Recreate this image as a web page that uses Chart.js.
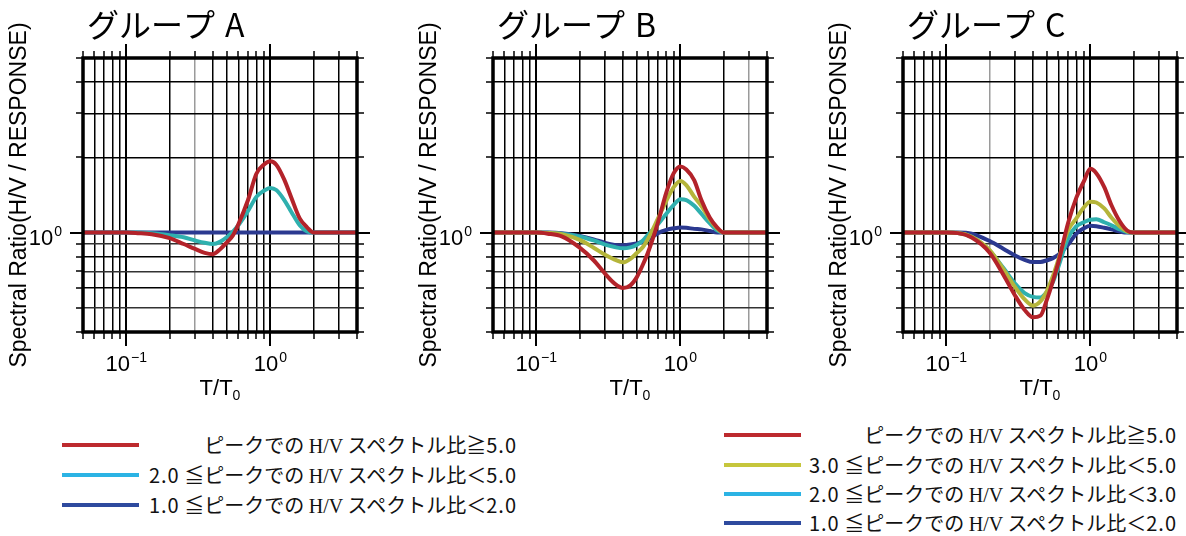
<!DOCTYPE html>
<html lang="ja">
<head>
<meta charset="UTF-8">
<title>グループ別 H/V スペクトル比</title>
<script src="https://cdn.jsdelivr.net/npm/chart.js"></script>
<style>
  html, body { margin: 0; padding: 0; background: #fff; }
  #wrap { position: relative; width: 1186px; height: 536px; overflow: hidden; background: #fff; }
  #wrap canvas { position: absolute; top: 0; }
  .swatch { position: absolute; height: 4px; }
  .label { position: absolute; white-space: nowrap; line-height: 1; transform: translate(-100%, -50%);
           font-family: "Noto Sans CJK JP", sans-serif; font-size: 20px; color: #111; }
  .hv { font-family: "Liberation Serif", serif; }
  .num { letter-spacing: 1px; }
</style>
</head>
<body>
<div id="wrap">
  <canvas id="chartA" width="380" height="410" style="left:0px"></canvas>
  <canvas id="chartB" width="380" height="410" style="left:410px"></canvas>
  <canvas id="chartC" width="380" height="410" style="left:820px"></canvas>
  <div id="legendLeft"></div>
  <div id="legendRight"></div>
</div>

<script>
// T/T0 sample points shared by every curve
const periodRatio = [0.05, 0.1, 0.12, 0.15, 0.2, 0.25, 0.3, 0.35, 0.4, 0.45, 0.5, 0.55, 0.6, 0.7, 0.8, 0.9, 1.0, 1.1, 1.25, 1.4, 1.6, 1.8, 2.0, 4.0];

// group A
const groupA_red  = [1, 1, 0.995, 0.985, 0.95, 0.9, 0.86, 0.83, 0.82, 0.86, 0.915, 0.975, 1.08, 1.35, 1.72, 1.87, 1.93, 1.87, 1.63, 1.38, 1.14, 1.05, 1.0, 1.0];
const groupA_cyan = [1, 1, 1.0, 0.995, 0.977, 0.958, 0.93, 0.91, 0.9, 0.92, 0.96, 1.01, 1.07, 1.22, 1.39, 1.47, 1.51, 1.48, 1.35, 1.21, 1.07, 1.01, 1.0, 1.0];
const groupA_blue = [1, 1, 1, 1, 1, 1, 1, 1, 1, 1, 1, 1, 1, 1, 1, 1, 1, 1, 1, 1, 1, 1, 1, 1];

// group B
const groupB_red    = [1, 1, 0.99, 0.965, 0.87, 0.775, 0.685, 0.625, 0.6, 0.615, 0.665, 0.745, 0.84, 1.1, 1.45, 1.73, 1.84, 1.79, 1.62, 1.35, 1.15, 1.05, 1.0, 1.0];
const groupB_yellow = [1, 1, 0.997, 0.985, 0.935, 0.87, 0.815, 0.78, 0.76, 0.785, 0.83, 0.875, 0.95, 1.14, 1.34, 1.52, 1.61, 1.55, 1.39, 1.28, 1.13, 1.04, 1.0, 1.0];
const groupB_cyan   = [1, 1, 0.998, 0.99, 0.965, 0.93, 0.895, 0.875, 0.865, 0.873, 0.895, 0.93, 0.985, 1.08, 1.19, 1.29, 1.36, 1.35, 1.28, 1.19, 1.09, 1.02, 1.0, 1.0];
const groupB_blue   = [1, 1, 1.0, 0.995, 0.97, 0.94, 0.91, 0.893, 0.89, 0.897, 0.905, 0.92, 0.94, 0.995, 1.025, 1.04, 1.048, 1.045, 1.035, 1.03, 1.015, 1.0, 1.0, 1.0];

// group C
const groupC_red    = [1, 1, 0.995, 0.955, 0.83, 0.675, 0.56, 0.49, 0.458, 0.465, 0.54, 0.64, 0.76, 1.09, 1.38, 1.6, 1.8, 1.73, 1.52, 1.29, 1.11, 1.02, 1.0, 1.0];
const groupC_yellow = [1, 1, 0.997, 0.962, 0.85, 0.71, 0.605, 0.54, 0.51, 0.53, 0.585, 0.67, 0.78, 1.02, 1.14, 1.26, 1.33, 1.32, 1.25, 1.15, 1.06, 1.01, 1.0, 1.0];
const groupC_cyan   = [1, 1, 0.997, 0.962, 0.845, 0.72, 0.625, 0.573, 0.553, 0.55, 0.58, 0.635, 0.73, 0.95, 1.06, 1.1, 1.125, 1.13, 1.1, 1.07, 1.03, 1.005, 1.0, 1.0];
const groupC_blue   = [1, 1, 1.0, 0.99, 0.925, 0.86, 0.81, 0.778, 0.762, 0.763, 0.775, 0.79, 0.815, 0.895, 0.99, 1.04, 1.064, 1.06, 1.045, 1.03, 1.01, 1.0, 1.0, 1.0];

// grid / tick positions
const xGridTicks = [0.05, 0.06, 0.07, 0.08, 0.09, 0.1, 0.2, 0.3, 0.4, 0.5, 0.6, 0.7, 0.8, 0.9, 1, 2, 3, 4];
const yGridTicks = [0.4, 0.5, 0.6, 0.7, 0.8, 0.9, 1, 2, 3, 4, 5];
const xLabelTicks = [0.1, 1];
const xLabelExp = ['\u22121', '0'];
const yLabelTicks = [1];
const yLabelExp = ['0'];

// legend texts
const legendLeftLabels = [
  'ピークでの H/V スペクトル比≧5.0',
  '2.0 ≦ピークでの H/V スペクトル比＜5.0',
  '1.0 ≦ピークでの H/V スペクトル比＜2.0'
];
const legendRightLabels = [
  'ピークでの H/V スペクトル比≧5.0',
  '3.0 ≦ピークでの H/V スペクトル比＜5.0',
  '2.0 ≦ピークでの H/V スペクトル比＜3.0',
  '1.0 ≦ピークでの H/V スペクトル比＜2.0'
];

const RED = '#b3232a', YELLOW = '#b5b53a', CYAN = '#2fb0ae', BLUE = '#2b3990';
const LG_RED = '#bd2a2e', LG_YELLOW = '#c6c63c', LG_CYAN = '#2bb3e4', LG_BLUE = '#2e4a9e';

function pow10Label(ctx, exp, x, baseline, align) {
  ctx.font = '22px "Liberation Sans", Arial, sans-serif';
  const wb = ctx.measureText('10').width;
  ctx.font = '14px "Liberation Sans", Arial, sans-serif';
  const we = ctx.measureText(exp).width;
  const total = wb + 1 + we;
  const start = align === 'right' ? x - total : x - total / 2;
  ctx.textAlign = 'left';
  ctx.textBaseline = 'alphabetic';
  ctx.font = '22px "Liberation Sans", Arial, sans-serif';
  ctx.fillText('10', start, baseline);
  ctx.font = '14px "Liberation Sans", Arial, sans-serif';
  ctx.fillText(exp, start + wb + 1, baseline - 9);
}

const decor = {
  id: 'decor',
  afterDraw(chart, args, opts) {
    const {ctx, chartArea: a, scales: {x, y}} = chart;
    ctx.save();
    ctx.strokeStyle = '#000';
    ctx.fillStyle = '#000';
    ctx.lineCap = 'butt';
    const seg = (x1, y1, x2, y2) => { ctx.beginPath(); ctx.moveTo(x1, y1); ctx.lineTo(x2, y2); ctx.stroke(); };

    // tick stubs outside the frame, on all four sides
    xGridTicks.forEach(v => {
      const px = Math.round(x.getPixelForValue(v));
      const major = xLabelTicks.includes(v);
      const len = major ? 14 : 7;
      ctx.lineWidth = major ? 2 : 1.5;
      seg(px, a.top - len, px, a.top);
      seg(px, a.bottom, px, a.bottom + len);
    });
    yGridTicks.forEach(v => {
      const py = Math.round(y.getPixelForValue(v));
      const major = yLabelTicks.includes(v);
      const len = major ? 13 : 7;
      ctx.lineWidth = major ? 2 : 1.5;
      seg(a.left - len, py, a.left, py);
      seg(a.right, py, a.right + len, py);
    });

    // frame
    ctx.lineWidth = 3.5;
    ctx.strokeRect(a.left, a.top, a.right - a.left, a.bottom - a.top);

    // tick labels
    xLabelTicks.forEach((v, i) => pow10Label(ctx, xLabelExp[i], x.getPixelForValue(v), 371, 'center'));
    yLabelTicks.forEach((v, i) => pow10Label(ctx, yLabelExp[i], a.left - 21, y.getPixelForValue(v) + 12, 'right'));

    // x title T/T0
    ctx.font = '22px "Liberation Sans", Arial, sans-serif';
    const wT = ctx.measureText('T/T').width;
    ctx.font = '14px "Liberation Sans", Arial, sans-serif';
    const w0 = ctx.measureText('0').width;
    const cx = (a.left + a.right) / 2;
    const sx = cx - (wT + w0) / 2;
    ctx.textAlign = 'left';
    ctx.font = '22px "Liberation Sans", Arial, sans-serif';
    ctx.fillText('T/T', sx, 395);
    ctx.font = '14px "Liberation Sans", Arial, sans-serif';
    ctx.fillText('0', sx + wT, 400);

    // y title
    ctx.save();
    ctx.translate(20, (a.top + a.bottom) / 2);
    ctx.rotate(-Math.PI / 2);
    ctx.textAlign = 'center';
    ctx.textBaseline = 'middle';
    ctx.font = '23px "Liberation Sans", Arial, sans-serif';
    ctx.fillText('Spectral Ratio(H/V / RESPONSE)', 0, 0);
    ctx.restore();

    // panel title
    ctx.textAlign = 'left';
    ctx.textBaseline = 'middle';
    ctx.font = '32px "Noto Sans CJK JP", sans-serif';
    ctx.fillText(opts.title, a.left + 4, 25);
    ctx.fillText(opts.letter, a.left + 142, 25);
    ctx.restore();
  }
};

function makePanel(id, title, letter, series, grayX) {
  new Chart(document.getElementById(id), {
    type: 'line',
    data: {
      datasets: series.map(s => ({
        data: periodRatio.map((t, i) => ({x: t, y: s.values[i]})),
        borderColor: s.color,
        borderWidth: 4,
        pointRadius: 0,
        cubicInterpolationMode: 'monotone',
        fill: false
      }))
    },
    options: {
      responsive: false,
      animation: false,
      events: [],
      layout: {padding: {left: 83, top: 58, right: 23, bottom: 78}},
      plugins: {
        legend: {display: false},
        tooltip: {enabled: false},
        decor: {title: title, letter: letter}
      },
      scales: {
        x: {
          type: 'logarithmic', min: 0.05, max: 4,
          afterBuildTicks: s => { s.ticks = xGridTicks.map(v => ({value: v})); },
          afterFit: s => { s.height = 0; },
          ticks: {display: false},
          border: {display: false},
          grid: {
            drawTicks: false,
            color: c => (c.tick && grayX.includes(c.tick.value)) ? '#9a9a9a' : '#000',
            lineWidth: c => (c.tick && xLabelTicks.includes(c.tick.value)) ? 2 : 1.5
          }
        },
        y: {
          type: 'logarithmic', min: 0.4, max: 5,
          afterBuildTicks: s => { s.ticks = yGridTicks.map(v => ({value: v})); },
          afterFit: s => { s.width = 0; },
          ticks: {display: false},
          border: {display: false},
          grid: {
            drawTicks: false,
            color: c => (c.tick && [0.5, 0.7, 0.9].includes(c.tick.value)) ? '#333' : '#000',
            lineWidth: c => (c.tick && yLabelTicks.includes(c.tick.value)) ? 2 : 1.5
          }
        }
      }
    },
    plugins: [decor]
  });
}

makePanel('chartA', 'グループ', 'A', [
  {values: groupA_red, color: RED},
  {values: groupA_cyan, color: CYAN},
  {values: groupA_blue, color: BLUE}
], [0.3]);

makePanel('chartB', 'グループ', 'B', [
  {values: groupB_red, color: RED},
  {values: groupB_yellow, color: YELLOW},
  {values: groupB_cyan, color: CYAN},
  {values: groupB_blue, color: BLUE}
], [3]);

makePanel('chartC', 'グループ', 'C', [
  {values: groupC_red, color: RED},
  {values: groupC_yellow, color: YELLOW},
  {values: groupC_cyan, color: CYAN},
  {values: groupC_blue, color: BLUE}
], [0.2]);

// legends
function appendWithNumbers(parent, text) {
  text.split(/(\d\.\d)/).forEach(piece => {
    if (!piece) return;
    if (/^\d\.\d$/.test(piece)) {
      const sp = document.createElement('span');
      sp.className = 'num';
      sp.textContent = piece;
      parent.appendChild(sp);
    } else {
      parent.appendChild(document.createTextNode(piece));
    }
  });
}

function buildLegend(el, labels, colors, rowsY, lineLeft, lineRight, textRight) {
  labels.forEach((txt, i) => {
    const sw = document.createElement('div');
    sw.className = 'swatch';
    sw.style.left = lineLeft + 'px';
    sw.style.width = (lineRight - lineLeft) + 'px';
    sw.style.top = (rowsY[i] - 2) + 'px';
    sw.style.background = colors[i];
    el.appendChild(sw);
    const lb = document.createElement('div');
    lb.className = 'label';
    lb.style.left = textRight + 'px';
    lb.style.top = rowsY[i] + 'px';
    const parts = txt.split('H/V');
    appendWithNumbers(lb, parts[0]);
    const hv = document.createElement('span');
    hv.className = 'hv';
    hv.textContent = 'H/V';
    lb.appendChild(hv);
    appendWithNumbers(lb, parts[1]);
    el.appendChild(lb);
  });
}

buildLegend(document.getElementById('legendLeft'), legendLeftLabels,
  [LG_RED, LG_CYAN, LG_BLUE], [445, 475, 505], 62, 139, 517);
buildLegend(document.getElementById('legendRight'), legendRightLabels,
  [LG_RED, LG_YELLOW, LG_CYAN, LG_BLUE], [435, 464.5, 494, 523], 724, 801, 1177);
</script>
</body>
</html>
